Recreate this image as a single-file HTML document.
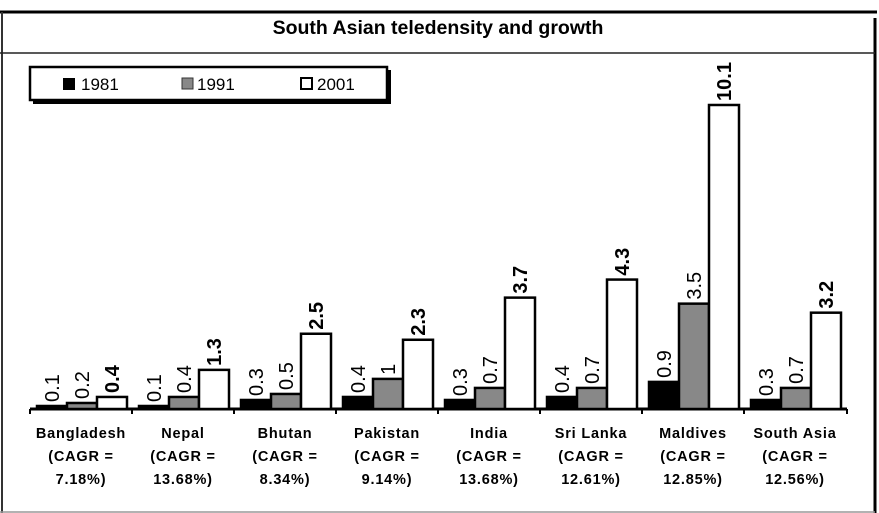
<!DOCTYPE html>
<html><head><style>
body{margin:0;background:#fff;}
svg{display:block;font-family:"Liberation Sans",Arial,sans-serif;}
</style></head><body>
<svg width="879" height="513" viewBox="0 0 879 513">
<rect width="879" height="513" fill="#fff"/>
<line x1="0" y1="12" x2="877" y2="12" stroke="#000" stroke-width="3"/>
<line x1="2" y1="12" x2="2" y2="513" stroke="#333" stroke-width="2"/>
<line x1="875" y1="18" x2="875" y2="513" stroke="#000" stroke-width="3"/>
<line x1="0" y1="53" x2="875" y2="53" stroke="#222" stroke-width="1.5"/>
<line x1="0" y1="512" x2="875" y2="512" stroke="#999" stroke-width="1.5"/>
<text x="438" y="34" text-anchor="middle" font-size="19.5" font-weight="bold">South Asian teledensity and growth</text>
<rect x="33" y="70" width="358" height="34" fill="#000"/>
<rect x="30" y="67" width="357" height="33" fill="#fff" stroke="#000" stroke-width="2.5"/>
<rect x="63" y="78" width="12" height="12" fill="#000"/>
<text x="81" y="90" font-size="17">1981</text>
<rect x="182" y="78" width="11" height="11" fill="#888" stroke="#333" stroke-width="1"/>
<text x="197" y="90" font-size="17">1991</text>
<rect x="301" y="78" width="11" height="11" fill="#fff" stroke="#000" stroke-width="2"/>
<text x="317" y="90" font-size="17">2001</text>
<line x1="30" y1="409" x2="847" y2="409" stroke="#000" stroke-width="3"/>
</svg>
<script>
var data=[["Bangladesh","7.18%",0.1,0.2,0.4],["Nepal","13.68%",0.1,0.4,1.3],["Bhutan","8.34%",0.3,0.5,2.5],["Pakistan","9.14%",0.4,1,2.3],["India","13.68%",0.3,0.7,3.7],["Sri Lanka","12.61%",0.4,0.7,4.3],["Maldives","12.85%",0.9,3.5,10.1],["South Asia","12.56%",0.3,0.7,3.2]];
var ns="http://www.w3.org/2000/svg",svg=document.querySelector("svg");
function el(t,a,txt){var e=document.createElementNS(ns,t);for(var k in a)e.setAttribute(k,a[k]);if(txt!=null)e.textContent=txt;svg.appendChild(e);return e;}
var base=409,s=30.1,fills=["#000","#888","#fff"];
data.forEach(function(d,i){
  var g=30+i*102;
  el("line",{x1:g,y1:409,x2:g,y2:414,stroke:"#000","stroke-width":2});
  for(var j=0;j<3;j++){
    var v=d[2+j],x=g+7+j*30,h=v*s;
    el("rect",{x:x,y:base-h,width:30,height:h,fill:fills[j],stroke:"#000","stroke-width":2.5});
    var cx=x+15,ty=base-h-4;
    el("text",{x:0,y:0,transform:"translate("+(cx+7)+","+ty+") rotate(-90)","font-size":20,"font-weight":j==2?"bold":"normal"},String(v));
  }
  var c=g+51;
  var st={"text-anchor":"middle","font-size":14.5,"font-weight":"bold","letter-spacing":"0.8"};
  el("text",Object.assign({x:c,y:438},st),d[0]);
  el("text",Object.assign({x:c,y:461},st),"(CAGR =");
  el("text",Object.assign({x:c,y:484},st),d[1]+")");
});
el("line",{x1:847,y1:409,x2:847,y2:414,stroke:"#000","stroke-width":2});
</script>
</body></html>
